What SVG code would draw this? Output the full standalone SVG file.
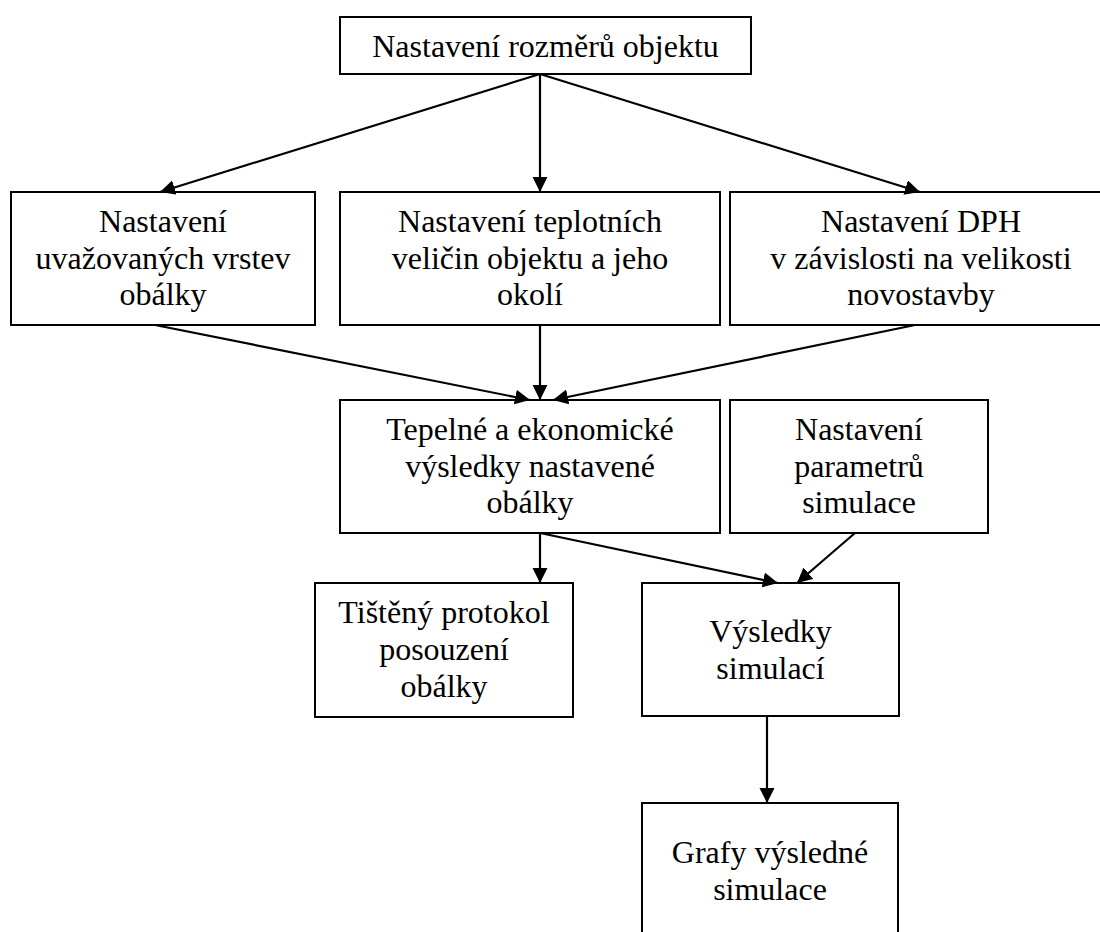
<svg xmlns="http://www.w3.org/2000/svg" width="1100" height="932" viewBox="0 0 1100 932">
<style>
.box{fill:#fff;stroke:#000;stroke-width:2}
.t{font-family:"Liberation Serif","Times New Roman",serif;font-size:32px;fill:#000;text-anchor:middle}
.c{stroke:#000;stroke-width:2.2;fill:none;marker-end:url(#ah)}
</style>
<defs>
<marker id="ah" markerUnits="userSpaceOnUse" markerWidth="16" markerHeight="16" refX="15" refY="7.5" orient="auto" viewBox="0 0 16 16">
<path d="M0,0 L15,7.5 L0,15 z" fill="#000"/>
</marker>
</defs>
<rect width="1100" height="932" fill="#fff"/>
<g id="n1"><rect class="box" x="340" y="17" width="411" height="57"/><text class="t" x="545.5" y="57">Nastavení rozměrů objektu</text></g>
<g id="n2"><rect class="box" x="11" y="192" width="304" height="133"/><text class="t" x="163" y="232">Nastavení</text><text class="t" x="163" y="268.5">uvažovaných vrstev</text><text class="t" x="163" y="305">obálky</text></g>
<g id="n3"><rect class="box" x="340" y="192" width="380" height="133"/><text class="t" x="530" y="232">Nastavení teplotních</text><text class="t" x="530" y="268.5">veličin objektu a jeho</text><text class="t" x="530" y="305">okolí</text></g>
<g id="n4"><rect class="box" x="730" y="192" width="382" height="133"/><text class="t" x="921" y="232">Nastavení DPH</text><text class="t" x="921" y="268.5">v závislosti na velikosti</text><text class="t" x="921" y="305">novostavby</text></g>
<g id="n5"><rect class="box" x="340" y="400" width="380" height="133"/><text class="t" x="530" y="440">Tepelné a ekonomické</text><text class="t" x="530" y="476.5">výsledky nastavené</text><text class="t" x="530" y="513">obálky</text></g>
<g id="n6"><rect class="box" x="730" y="400" width="258" height="133"/><text class="t" x="859" y="440">Nastavení</text><text class="t" x="859" y="476.5">parametrů</text><text class="t" x="859" y="513">simulace</text></g>
<g id="n7"><rect class="box" x="315" y="583" width="258" height="134"/><text class="t" x="444" y="623">Tištěný protokol</text><text class="t" x="444" y="660">posouzení</text><text class="t" x="444" y="697">obálky</text></g>
<g id="n8"><rect class="box" x="642" y="583" width="257" height="133"/><text class="t" x="770.5" y="642">Výsledky</text><text class="t" x="770.5" y="678.5">simulací</text></g>
<g id="n9"><rect class="box" x="642" y="803" width="256" height="140"/><text class="t" x="770" y="863">Grafy výsledné</text><text class="t" x="770" y="900">simulace</text></g>
<g id="connectors">
<line class="c" x1="540" y1="74" x2="160" y2="192"/>
<line class="c" x1="540" y1="74" x2="540" y2="192"/>
<line class="c" x1="540" y1="74" x2="920" y2="192"/>
<line class="c" x1="155" y1="325" x2="530" y2="400"/>
<line class="c" x1="540" y1="325" x2="540" y2="400"/>
<line class="c" x1="915" y1="325" x2="553" y2="400"/>
<line class="c" x1="540" y1="533" x2="540" y2="583"/>
<line class="c" x1="540" y1="533" x2="778" y2="583"/>
<line class="c" x1="855" y1="533" x2="797" y2="583"/>
<line class="c" x1="767" y1="716" x2="767" y2="803"/>
</g>
</svg>
